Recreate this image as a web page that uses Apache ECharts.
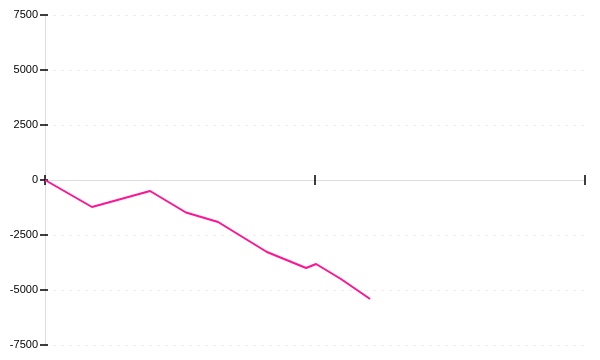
<!DOCTYPE html>
<html>
<head>
<meta charset="utf-8">
<script src="https://cdn.jsdelivr.net/npm/echarts@6/dist/echarts.min.js"></script>
<style>html,body{margin:0;padding:0;background:#fff}#c{width:600px;height:360px}</style>
</head>
<body>
<div id="c"></div>
<script>
var xValues = [0, 17.4, 38.9, 52.2, 64.1, 82.2, 96.7, 100.4, 109.6, 120.4];
var yValues = [0, -1227, -500, -1477, -1909, -3273, -4000, -3818, -4500, -5409];
var yTicks = [-7500, -5000, -2500, 0, 2500, 5000, 7500];

var seriesData = xValues.map(function (x, i) { return [x, yValues[i]]; });
var chart = echarts.init(document.getElementById('c'));
var xCommon = {
  type: 'value', min: 0, max: 200, interval: 100,
  axisLine: { onZero: true, lineStyle: { color: '#dddddd', width: 1 } },
  axisLabel: { show: false },
  splitLine: { show: false }
};
chart.setOption({
  animation: false,
  grid: { left: 45, right: 15, top: 15, bottom: 15 },
  xAxis: [
    Object.assign({}, xCommon, { position: 'bottom', axisTick: { length: 5, lineStyle: { color: '#000', width: 1.5 } } }),
    Object.assign({}, xCommon, { position: 'top', axisTick: { length: 5, lineStyle: { color: '#000', width: 1.5 } } })
  ],
  yAxis: [{
    type: 'value', min: yTicks[0], max: yTicks[yTicks.length - 1], interval: 2500,
    axisLine: { show: true, lineStyle: { color: '#dddddd' } },
    axisTick: { length: 5, lineStyle: { color: '#000', width: 1.5 } },
    axisLabel: { margin: 7, color: '#000', fontSize: 11, fontFamily: 'Liberation Sans, Arial, sans-serif',
      formatter: function (v) { return String(v); } },
    splitLine: { show: true, lineStyle: { color: '#eeeeee', type: [3, 5] } }
  }, {
    type: 'value', min: yTicks[0], max: yTicks[yTicks.length - 1], interval: 2500, position: 'left',
    axisLine: { show: false },
    axisTick: { inside: true, length: 3, lineStyle: { color: '#000', width: 1.5 } },
    axisLabel: { show: false },
    splitLine: { show: false }
  }],
  series: [{
    type: 'line', data: seriesData, showSymbol: false, smooth: false,
    lineStyle: { color: '#ff1493', width: 2 },
    itemStyle: { color: '#ff1493' }
  }]
});
</script>
</body>
</html>
